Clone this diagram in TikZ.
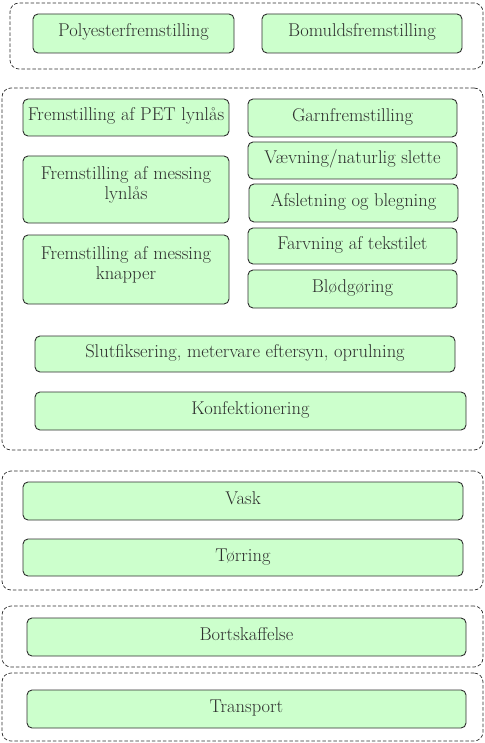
\documentclass[tikz,border=0pt]{standalone}
\usepackage{xcolor}
\usepackage{tikz}
\usetikzlibrary{positioning}
\definecolor{mint}{HTML}{CCFFCC}
\definecolor{ink}{HTML}{2E2E2E}
\tikzset{
  stepbase/.style={rectangle, rounded corners=5pt, draw=ink, fill=mint, line width=0.9pt,
                   align=center, inner sep=2pt, text=ink, font=\fontsize{18.5}{20}\selectfont},
  stepbox/.style={stepbase, text height=13pt, text depth=6pt},
  tallbox/.style={stepbase, text depth=13pt},
  grp/.style={rectangle, rounded corners=9pt, draw=ink, line width=0.7pt,
              dash pattern=on 3.5pt off 2pt}
}
% a box given by its corners in pixel units
\newcommand{\pbox}[6]{%
  \node[#1, minimum width=#5-#3, minimum height=#6-#4] (#2) at ({(#3+#5)/2},{(#4+#6)/2}) {};}

\begin{document}
\begin{tikzpicture}[x=1pt, y=-1pt, outer sep=0pt]
 \useasboundingbox (0,0) rectangle (484,743);

 % groups
 \pbox{grp}{rawgrp}{10}{3}{483}{69}
 \pbox{grp}{makegrp}{2}{88}{483}{450}
 \pbox{grp}{usegrp}{2}{471}{483}{590}
 \pbox{grp}{dispgrp}{2}{606}{483}{667}
 \pbox{grp}{transgrp}{2}{673}{483}{741}

 % fibres
 \node[stepbox, minimum width=201, minimum height=39] (pes) at (133.5,33.5) {Polyesterfremstilling};
 \node[stepbox, minimum width=200, minimum height=39] (cot) at (362,33.5) {Bomuldsfremstilling};

 % accessories
 \node[stepbox, minimum width=206, minimum height=37] (pet) at (126,117.5) {Fremstilling af PET lynlås};
 \node[tallbox, minimum width=206, minimum height=67] (zip) at (126,189.5) {Fremstilling af messing\\lynlås};
 \node[tallbox, minimum width=206, minimum height=69] (btn) at (126,269.5) {Fremstilling af messing\\knapper};

 % textile chain
 \node[stepbox, minimum width=209, minimum height=38] (yarn) at (352.5,118) {Garnfremstilling};
 \node[stepbox, minimum width=209, minimum height=37] (weave) at (352.5,160.5) {Vævning/naturlig slette};
 \node[stepbox, minimum width=209, minimum height=38] (bleach) at (353.5,203) {Afsletning og blegning};
 \node[stepbox, minimum width=209, minimum height=36] (dye) at (352.5,246) {Farvning af tekstilet};
 \node[stepbox, minimum width=209, minimum height=38] (soft) at (352.5,289) {Blødgøring};

 \node[stepbox, minimum width=420, minimum height=36] (fin) at (245,354) {Slutfiksering, metervare eftersyn, oprulning};
 \node[stepbox, minimum width=431, minimum height=38] (sew) at (250.5,411) {Konfektionering};

 % use phase
 \node[stepbox, minimum width=440, minimum height=38] (wash) at (243,501) {Vask};
 \node[stepbox, minimum width=440, minimum height=37] (dry) at (243,557.5) {Tørring};

 % disposal and transport
 \node[stepbox, minimum width=439, minimum height=38] (disp) at (246.5,637) {Bortskaffelse};
 \node[stepbox, minimum width=439, minimum height=38] (tr) at (246.5,709) {Transport};
\end{tikzpicture}
\end{document}
